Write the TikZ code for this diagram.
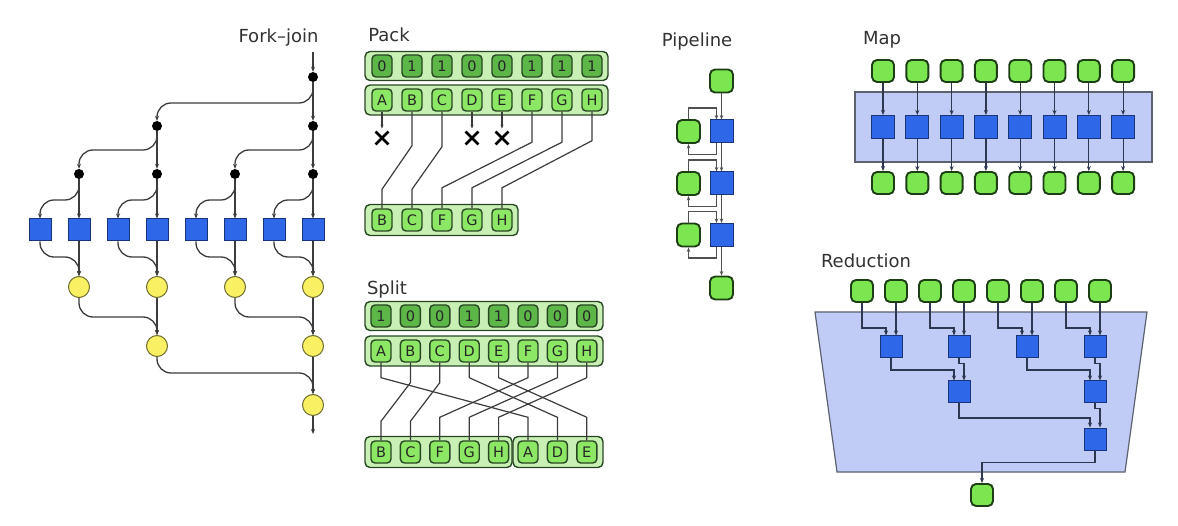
\documentclass[tikz,border=0pt]{standalone}
\usepackage{fontspec}
\setmainfont{DejaVu Sans}
\usetikzlibrary{arrows.meta,shapes.misc,calc}
\definecolor{gfill}{RGB}{124,230,80}
\definecolor{gdark}{RGB}{30,62,22}
\definecolor{bfill}{RGB}{46,104,232}
\definecolor{bdark}{RGB}{26,52,120}
\definecolor{yfill}{RGB}{250,240,100}
\definecolor{ydark}{RGB}{110,108,50}
\definecolor{contfill}{RGB}{192,204,245}
\definecolor{contdark}{RGB}{92,98,112}
\definecolor{bitfill}{RGB}{92,182,72}
\definecolor{letfill}{RGB}{140,232,100}
\definecolor{barfill}{RGB}{200,240,180}
\definecolor{cdark}{RGB}{40,70,35}
\definecolor{linec}{RGB}{60,60,60}
\definecolor{arrc}{RGB}{45,55,80}
\definecolor{lblc}{RGB}{50,50,50}
\begin{document}
\begin{tikzpicture}[x=1pt,y=-1pt,
  gbox/.style={draw=gdark,fill=gfill,line width=1.9pt,rounded corners=5pt,minimum width=22pt,minimum height=22pt,inner sep=0pt},
  bsq/.style={draw=bdark,fill=bfill,line width=1pt,minimum width=22pt,minimum height=22pt,inner sep=0pt},
  ycirc/.style={circle,draw=ydark,fill=yfill,line width=1pt,minimum size=21pt,inner sep=0pt},
  fdot/.style={circle,fill=black,minimum size=10pt,inner sep=0pt},
  fj/.style={draw=linec,line width=1.3pt,rounded corners=14pt,-{Stealth[length=5pt,width=4pt]}},
  lbl/.style={font=\fontsize{18}{20}\selectfont,text=lblc},
  bitcell/.style={draw=cdark,fill=bitfill,line width=1.4pt,rounded corners=4pt,minimum width=20pt,minimum height=22pt,inner sep=0pt,font=\fontsize{14.5}{14.5}\selectfont,text=black!85},
  letcell/.style={bitcell,fill=letfill},
  bar/.style={draw=cdark,fill=barfill,line width=1.4pt,rounded corners=5pt,inner sep=0pt},
  pk/.style={draw=linec,line width=1.2pt},
  arr/.style={draw=arrc,line width=1.2pt,-{Stealth[length=5pt,width=4pt]}},
  parr/.style={draw=linec!90,line width=1.2pt,-{Stealth[length=4.5pt,width=3.5pt]}},
  xmark/.style={cross out,draw=black,line width=2.8pt,minimum size=10pt,inner sep=0pt},
  cont/.style={draw=contdark,fill=contfill,line width=1.2pt}
]
\useasboundingbox (0,0) rectangle (1178,526);

% ================= Fork-join =================
\node[lbl] (fjl) at (278.5,38) {Fork–join};
\coordinate (fjtop) at (313,52);
\node[fdot] (d0) at (313,77) {};
\node[fdot] (d1a) at (157,126) {};
\node[fdot] (d1b) at (313,126) {};
\node[fdot] (d2a) at (79,174) {};
\node[fdot] (d2b) at (157,174) {};
\node[fdot] (d2c) at (235,174) {};
\node[fdot] (d2d) at (313,174) {};
\foreach \i/\x in {1/40,2/79,3/118,4/157,5/196,6/235,7/274,8/313}
  \node[bsq] (s\i) at (\x,230) {};
\node[ycirc] (c1a) at (79,287) {};
\node[ycirc] (c1b) at (157,287) {};
\node[ycirc] (c1c) at (235,287) {};
\node[ycirc] (c1d) at (313,287) {};
\node[ycirc] (c2a) at (157,346) {};
\node[ycirc] (c2b) at (313,346) {};
\node[ycirc] (c3) at (313,405) {};
\coordinate (fjend) at (313,434);

\draw[fj] (fjtop) -- (d0);
\draw[fj] (d0) -- (d1b);
\draw[fj] (d0) |- ($(d1a)+(0,-23)$) -- (d1a);
\draw[fj] (d1a) -- (d2b);
\draw[fj] (d1a) |- ($(d2a)+(0,-24)$) -- (d2a);
\draw[fj] (d1b) -- (d2d);
\draw[fj] (d1b) |- ($(d2c)+(0,-24)$) -- (d2c);
\draw[fj] (d2a) -- (s2);
\draw[fj] (d2a) |- ($(s1)+(0,-30)$) -- (s1);
\draw[fj] (d2b) -- (s4);
\draw[fj] (d2b) |- ($(s3)+(0,-30)$) -- (s3);
\draw[fj] (d2c) -- (s6);
\draw[fj] (d2c) |- ($(s5)+(0,-30)$) -- (s5);
\draw[fj] (d2d) -- (s8);
\draw[fj] (d2d) |- ($(s7)+(0,-30)$) -- (s7);
\draw[fj] (s1) |- ($(c1a)+(0,-30)$) -- (c1a);
\draw[fj] (s2) -- (c1a);
\draw[fj] (s3) |- ($(c1b)+(0,-30)$) -- (c1b);
\draw[fj] (s4) -- (c1b);
\draw[fj] (s5) |- ($(c1c)+(0,-30)$) -- (c1c);
\draw[fj] (s6) -- (c1c);
\draw[fj] (s7) |- ($(c1d)+(0,-30)$) -- (c1d);
\draw[fj] (s8) -- (c1d);
\draw[fj] (c1a) |- ($(c2a)+(0,-29)$) -- (c2a);
\draw[fj] (c1b) -- (c2a);
\draw[fj] (c1c) |- ($(c2b)+(0,-29)$) -- (c2b);
\draw[fj] (c1d) -- (c2b);
\draw[fj] (c2a) |- ($(c3)+(0,-32)$) -- (c3);
\draw[fj] (c2b) -- (c3);
\draw[fj] (c3) -- (fjend);

% ================= Pack =================
\node[lbl] (packl) at (389,35) {Pack};
\node[bar,minimum width=243pt,minimum height=29pt] (pbar1) at (486.5,66) {};
\node[bar,minimum width=243pt,minimum height=30pt] (pbar2) at (486.5,100) {};
\node[bar,minimum width=153pt,minimum height=31pt] (pbar3) at (441.5,220) {};
\foreach \b [count=\i from 0] in {0,1,1,0,0,1,1,1}
  \node[bitcell] (pbit\i) at ({382+30*\i},66) {\b};
\foreach \l [count=\i from 0] in {A,B,C,D,E,F,G,H}
  \node[letcell] (pl\l) at ({382+30*\i},100) {\l};
\foreach \l [count=\i from 0] in {B,C,F,G,H}
  \node[letcell] (pq\l) at ({382+30*\i},220) {\l};
\node[xmark] (xA) at (382,138) {};
\node[xmark] (xD) at (472,138) {};
\node[xmark] (xE) at (502,138) {};
\foreach \l in {A,D,E}
  \draw[draw=linec,line width=1.2pt,-{Stealth[length=4pt,width=3pt]}] (pl\l.south) -- ($(x\l.north)+(0,-3)$);
\draw[pk] (plB.south) -- ($(plB.south)+(0,34)$) -- ($(pqB.north)+(0,-19)$) -- (pqB.north);
\draw[pk] (plC.south) -- ($(plC.south)+(0,35)$) -- ($(pqC.north)+(0,-19)$) -- (pqC.north);
\draw[pk] (plF.south) -- ($(plF.south)+(0,30.5)$) -- ($(pqF.north)+(0,-20.5)$) -- (pqF.north);
\draw[pk] (plG.south) -- ($(plG.south)+(0,30.5)$) -- ($(pqG.north)+(0,-20.5)$) -- (pqG.north);
\draw[pk] (plH.south) -- ($(plH.south)+(0,29)$) -- ($(pqH.north)+(0,-20.5)$) -- (pqH.north);

% ================= Split =================
\node[lbl] (splitl) at (387,290) {Split};
\node[bar,minimum width=238pt,minimum height=29pt] (sbar1) at (484,316) {};
\node[bar,minimum width=238pt,minimum height=30pt] (sbar2) at (484,351) {};
\node[bar,minimum width=147pt,minimum height=31pt] (sbar3) at (438.5,452) {};
\node[bar,minimum width=90pt,minimum height=31pt] (sbar4) at (558,452) {};
\foreach \b [count=\i from 0] in {1,0,0,1,1,0,0,0}
  \node[bitcell] (sbit\i) at ({381+29.4*\i},316) {\b};
\foreach \l [count=\i from 0] in {A,B,C,D,E,F,G,H}
  \node[letcell] (sl\l) at ({381+29.4*\i},351) {\l};
\foreach \l [count=\i from 0] in {B,C,F,G,H,A,D,E}
  \node[letcell] (sq\l) at ({381+29.4*\i},452) {\l};
\draw[pk] (slA.south) -- ($(slA.south)+(0,15)$) -- ($(sqA.north)+(0,-23)$) -- (sqA.north);
\draw[pk] (slB.south) -- ($(slB.south)+(0,20)$) -- ($(sqB.north)+(0,-19)$) -- (sqB.north);
\draw[pk] (slC.south) -- ($(slC.south)+(0,20)$) -- ($(sqC.north)+(0,-19)$) -- (sqC.north);
\draw[pk] (slD.south) -- ($(slD.south)+(0,15)$) -- ($(sqD.north)+(0,-23)$) -- (sqD.north);
\draw[pk] (slE.south) -- ($(slE.south)+(0,15)$) -- ($(sqE.north)+(0,-23)$) -- (sqE.north);
\draw[pk] (slF.south) -- ($(slF.south)+(0,15)$) -- ($(sqF.north)+(0,-23)$) -- (sqF.north);
\draw[pk] (slG.south) -- ($(slG.south)+(0,15)$) -- ($(sqG.north)+(0,-23)$) -- (sqG.north);
\draw[pk] (slH.south) -- ($(slH.south)+(0,15)$) -- ($(sqH.north)+(0,-23)$) -- (sqH.north);

% ================= Pipeline =================
\node[lbl] (pipel) at (697,42) {Pipeline};
\node[gbox,minimum width=23pt,minimum height=23pt] (pin) at (721.5,81) {};
\node[gbox,minimum width=23pt,minimum height=23pt] (pst1) at (688.5,131.5) {};
\node[bsq,minimum width=23pt,minimum height=23pt] (pbl1) at (721.5,131.5) {};
\node[gbox,minimum width=23pt,minimum height=23pt] (pst2) at (688.5,183.5) {};
\node[bsq,minimum width=23pt,minimum height=23pt] (pbl2) at (721.5,183.5) {};
\node[gbox,minimum width=23pt,minimum height=23pt] (pst3) at (688.5,235) {};
\node[bsq,minimum width=23pt,minimum height=23pt] (pbl3) at (721.5,235) {};
\node[gbox,minimum width=23pt,minimum height=23pt] (pout) at (721.5,288) {};
\draw[parr] (pin) -- (pbl1);
\draw[parr] (pbl1) -- (pbl2);
\draw[parr] (pbl2) -- (pbl3);
\draw[parr] (pbl3) -- (pout);
\foreach \k in {1,2,3}{
  \draw[parr] (pst\k.north) -- ++(0,-11) -| ([xshift=-5pt]pbl\k.north);
  \draw[parr] ([xshift=-5pt]pbl\k.south) -- ++(0,11) -| (pst\k.south);
}

% ================= Map =================
\node[lbl] (mapl) at (882,40) {Map};
\node[cont,minimum width=297pt,minimum height=70pt,inner sep=0pt] (mbox) at (1003.5,127) {};
\foreach \i in {0,...,7}{
  \node[gbox] (mt\i) at ({883+34.3*\i},71) {};
  \node[bsq,minimum width=23pt,minimum height=23pt] (ms\i) at ({883+34.3*\i},127) {};
  \node[gbox] (mb\i) at ({883+34.3*\i},183) {};
  \draw[arr] (mt\i) -- (ms\i);
  \draw[arr] (ms\i) -- (mb\i);
}

% ================= Reduction =================
\node[lbl] (redl) at (866,261) {Reduction};
\draw[cont] (815,312) -- (1147,312) -- (1125,472) -- (837,472) -- cycle;
\foreach \i in {0,...,7}
  \node[gbox] (ri\i) at ({862+34*\i},291) {};
\node[bsq] (ra1) at (891,347) {};
\node[bsq] (ra2) at (959,347) {};
\node[bsq] (ra3) at (1027,347) {};
\node[bsq] (ra4) at (1095,347) {};
\node[bsq] (rc1) at (959,392) {};
\node[bsq] (rc2) at (1095,392) {};
\node[bsq] (rd) at (1095,439) {};
\node[gbox] (ro) at (982,495) {};
\draw[arr] (ri0.south) -- ++(0,25) -| ([xshift=-5pt]ra1.north);
\draw[arr] (ri1.south) -- ([xshift=5pt]ra1.north);
\draw[arr] (ri2.south) -- ++(0,25) -| ([xshift=-5pt]ra2.north);
\draw[arr] (ri3.south) -- ([xshift=5pt]ra2.north);
\draw[arr] (ri4.south) -- ++(0,25) -| ([xshift=-5pt]ra3.north);
\draw[arr] (ri5.south) -- ([xshift=5pt]ra3.north);
\draw[arr] (ri6.south) -- ++(0,25) -| ([xshift=-5pt]ra4.north);
\draw[arr] (ri7.south) -- ([xshift=5pt]ra4.north);
\draw[arr] (ra1.south) -- ++(0,11.5) -| ([xshift=-5pt]rc1.north);
\draw[arr] (ra2.south) -- ++(0,5) -| ([xshift=5pt]rc1.north);
\draw[arr] (ra3.south) -- ++(0,11.5) -| ([xshift=-5pt]rc2.north);
\draw[arr] (ra4.south) -- ++(0,5) -| ([xshift=5pt]rc2.north);
\draw[arr] (rc1.south) -- ++(0,14.5) -| ([xshift=-5pt]rd.north);
\draw[arr] (rc2.south) -- ++(0,5) -| ([xshift=5pt]rd.north);
\draw[arr] (rd.south) -- ++(0,12) -| (ro.north);
\end{tikzpicture}
\end{document}
